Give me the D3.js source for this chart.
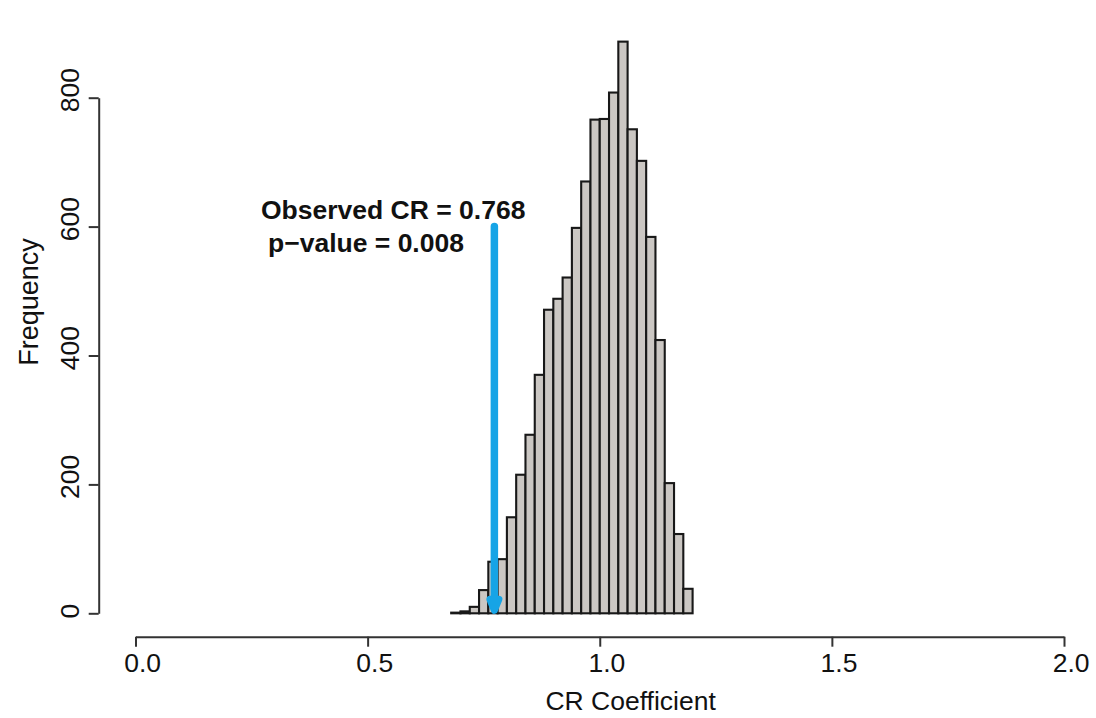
<!DOCTYPE html>
<html>
<head>
<meta charset="utf-8">
<script src="https://cdn.jsdelivr.net/npm/d3@7"></script>
<style>
  html, body { margin: 0; padding: 0; background: #fff; }
  svg { display: block; }
  text { font-family: "Liberation Sans", Arial, Helvetica, sans-serif; fill: #111; }
</style>
</head>
<body>
<svg id="chart" width="1096" height="718"></svg>
<script>
// ---- data ----
const binStarts = [0.68,0.70,0.72,0.74,0.76,0.78,0.80,0.82,0.84,0.86,0.88,0.90,0.92,0.94,0.96,0.98,1.00,1.02,1.04,1.06,1.08,1.10,1.12,1.14,1.16,1.18];
const counts    = [1,   3,   10,  36,  80,  84,  149, 215, 277, 370, 471, 488, 521, 598, 670, 766, 767, 808, 887, 751, 702, 584, 424, 202, 123, 38];
const binWidth = 0.02;
const xTicks = [0.0, 0.5, 1.0, 1.5, 2.0];
const yTicks = [0, 200, 400, 600, 800];
const observedCR = 0.768;
const pValue = 0.008;
const arrowAt = 0.773;      // horizontal position of the arrow as drawn
const arrowFrom = 600;      // arrow start (frequency units)
const labelX = "CR Coefficient";
const labelY = "Frequency";

// ---- layout ----
const svg = d3.select("#chart");
const x = d3.scaleLinear().domain([0, 2]).range([135.5, 1064]);
const y = d3.scaleLinear().domain([0, 800]).range([613.3, 97.7]);
const FS = 26.5;

// bars
svg.append("g").selectAll("rect")
  .data(binStarts.map((b, i) => ({ b, c: counts[i] })))
  .join("rect")
  .attr("x", d => x(d.b))
  .attr("width", d => x(d.b + binWidth) - x(d.b))
  .attr("y", d => y(d.c))
  .attr("height", d => y(0) - y(d.c))
  .attr("fill", "#cbc7c3")
  .attr("stroke", "#181818")
  .attr("stroke-width", 2.1);

// x axis
const gx = svg.append("g")
  .attr("transform", "translate(0,636.7)")
  .call(d3.axisBottom(x).tickValues(xTicks).tickFormat(d3.format(".1f"))
        .tickSize(10).tickSizeOuter(0).tickPadding(6.5));
gx.select(".domain").attr("stroke", "#333").attr("stroke-width", 2);
gx.selectAll(".tick line").attr("stroke", "#333").attr("stroke-width", 2);
gx.selectAll(".tick text")
  .attr("font-size", FS)
  .style("font-family", "'Liberation Sans', Arial, sans-serif")
  .attr("fill", "#111")
  .each(function () {
    const w = this.getComputedTextLength();
    d3.select(this).attr("dx", 0.18 * w);
  });

// y axis
const gy = svg.append("g")
  .attr("transform", "translate(98.7,0)")
  .call(d3.axisLeft(y).tickValues(yTicks).tickFormat(d3.format("d"))
        .tickSize(10).tickSizeOuter(0));
gy.select(".domain").attr("stroke", "#333").attr("stroke-width", 2);
gy.selectAll(".tick line").attr("stroke", "#333").attr("stroke-width", 2);
gy.selectAll(".tick text")
  .attr("font-size", FS)
  .style("font-family", "'Liberation Sans', Arial, sans-serif")
  .attr("fill", "#111")
  .attr("x", 0).attr("y", 0).attr("dy", 0)
  .attr("text-anchor", "middle")
  .attr("transform", "translate(-19.7,0) rotate(-90)")
  .each(function () {
    const w = this.getComputedTextLength();
    d3.select(this).attr("dx", 0.18 * w);
  });

// axis titles
svg.append("text")
  .attr("x", 600).attr("y", 710)
  .attr("text-anchor", "middle")
  .attr("font-size", FS)
  .text(labelX)
  .each(function () {
    const w = this.getComputedTextLength();
    d3.select(this).attr("dx", 0.18 * w);
  });

svg.append("text")
  .attr("transform", "translate(38,302) rotate(-90)")
  .attr("text-anchor", "middle")
  .attr("font-size", 27)
  .text(labelY);

// annotation
svg.append("text")
  .attr("x", 261).attr("y", 219.3)
  .attr("font-size", FS).attr("font-weight", "bold")
  .text("Observed CR = " + observedCR.toFixed(3));
svg.append("text")
  .attr("x", 268).attr("y", 251.7)
  .attr("font-size", FS).attr("font-weight", "bold")
  .text("p\u2212value = " + pValue.toFixed(3));

// arrow
const ax = x(arrowAt);
const blue = "#16a4e6";
const tipY = y(0) - 3;
svg.append("line")
  .attr("x1", ax).attr("x2", ax)
  .attr("y1", y(arrowFrom)).attr("y2", tipY - 4)
  .attr("stroke", blue).attr("stroke-width", 7.5)
  .attr("stroke-linecap", "round");
svg.append("path")
  .attr("d", `M${ax - 4.5},${tipY - 11} L${ax},${tipY} L${ax + 4.5},${tipY - 11} Z`)
  .attr("fill", blue).attr("stroke", blue).attr("stroke-width", 7)
  .attr("stroke-linejoin", "round");
</script>
</body>
</html>
